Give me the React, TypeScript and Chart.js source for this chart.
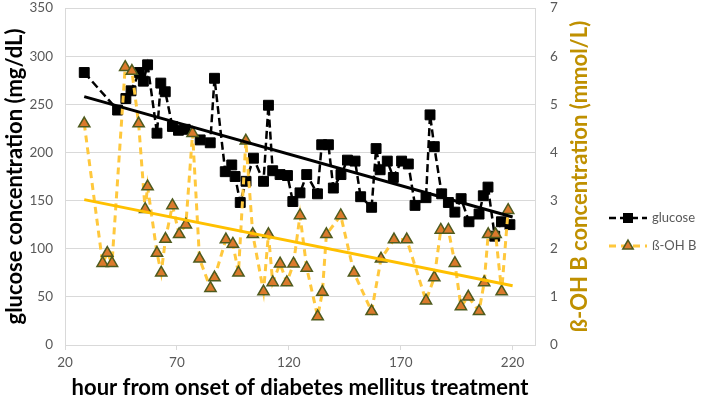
import { useEffect, useRef } from "react";
import { Chart, registerables } from "chart.js";

Chart.register(...registerables);

// Hours since treatment onset for each glucose sample, with its value (mg/dL)
const glucoseHours = [
  28.6, 43.5, 47.2, 49.5, 53.2, 55, 56.9, 61.1, 62.8, 64.8, 68, 70.7, 73.7, 80.4, 84.9, 86.8,
  91.6, 94.5, 96, 98.3, 100.9, 104.2, 108.7, 110.9, 112.8, 116.1, 119.4, 121.8, 125, 128,
  132.8, 134.7, 137.7, 139.9, 143.3, 146.2, 149.6, 152.1, 157, 159, 160.8, 164, 166.7, 170.4,
  173.4, 176.4, 181.3, 183.1, 185, 188.3, 191.3, 194.2, 197, 200.5, 205, 206.9, 209, 212, 215,
  218.8,
];
const glucoseValues = [
  283, 244, 256, 264, 283, 274, 291, 220, 272, 263, 227, 223, 224, 213, 210, 277,
  180, 187, 175, 148, 170, 194, 170, 249, 181, 177, 176, 149, 158, 177,
  157, 208, 208, 163, 177, 192, 191, 154, 143, 204, 182, 191, 174, 191,
  188, 145, 153, 239, 206, 157, 148, 138, 152, 128, 136, 155, 164, 113, 128,
  125,
];

// Hours and β-hydroxybutyrate values (mmol/L)
const bohbHours = [
  28.6, 36.8, 38.9, 41, 46.9, 49.9, 52.9, 55.8, 56.9, 61.1, 63, 64.9, 68, 71, 74, 77, 80.1,
  85, 86.8, 91.9, 95, 97.5, 100.8, 103.9, 108.7, 110.9, 112.8, 116.1, 119.1, 122.1, 125, 128,
  132.9, 135, 136.8, 143.2, 149.1, 157, 161.2, 167, 172.7, 181.3, 185, 187.9, 191.3, 194.2,
  196.9, 200.2, 205, 207.3, 209.1, 212.4, 215.1, 218,
];
const bohbValues = [
  4.6, 1.7, 1.91, 1.7, 5.77, 5.69, 4.6, 2.82, 3.29, 1.91, 1.5, 2.2, 2.9, 2.3, 2.5, 4.4, 1.79,
  1.18, 1.4, 2.19, 2.1, 1.5, 4.24, 2.3, 1.11, 2.3, 1.3, 1.69, 1.3, 1.69, 2.69, 1.6,
  0.59, 1.1, 2.3, 2.69, 1.5, 0.7, 1.79, 2.19, 2.19, 0.92, 1.4, 2.39, 2.39, 1.7,
  0.8, 1.0, 0.7, 1.3, 2.3, 2.3, 1.11, 2.8,
];

// Linear trend end points
const trendHours = [28.6, 220];
const glucoseTrend = [258, 133];
const bohbTrend = [3.02, 1.23];

const xTicks = [20, 70, 120, 170, 220];

const FONT = "Lato, 'Open Sans', sans-serif";
const TITLE_SIZE = 22;
const TICK_SIZE = 13.5;
const GRID = "#D9D9D9";
const TICK_COLOR = "#595959";
const BOHB_LINE = "#FFC83D";
const BOHB_FILL = "#DB7A2C";
const BOHB_EDGE = "#4E5B1E";
const RIGHT_TITLE = "ß-OH B concentration (mmol/L)";

const pts = (xs: number[], ys: number[]) => xs.map((x, i) => ({ x, y: ys[i] }));

function drawTriangle(ctx: CanvasRenderingContext2D, x: number, y: number, r: number) {
  ctx.beginPath();
  ctx.moveTo(x, y - r);
  ctx.lineTo(x + r * Math.sin(Math.PI / 3), y + r * 0.5);
  ctx.lineTo(x - r * Math.sin(Math.PI / 3), y + r * 0.5);
  ctx.closePath();
}

// Right-hand axis title (read bottom-to-top) and the legend beside it
const sidePlugin = {
  id: "sideTitleLegend",
  afterDraw(chart: Chart) {
    const { ctx, chartArea } = chart;
    ctx.save();
    ctx.translate(580, (chartArea.top + chartArea.bottom) / 2);
    ctx.rotate(-Math.PI / 2);
    ctx.font = `bold ${TITLE_SIZE}px ${FONT}`;
    ctx.fillStyle = "#BF9000";
    ctx.textAlign = "center";
    ctx.textBaseline = "middle";
    ctx.fillText(RIGHT_TITLE, 0, 0);
    ctx.restore();

    const rows = [
      { y: 218, label: "glucose", color: "#000000", width: 2.5, dash: [7, 4], marker: "rect" },
      { y: 246, label: "ß-OH B", color: BOHB_LINE, width: 3, dash: [7, 5], marker: "triangle" },
    ];
    const x0 = 609;
    const x1 = 647;
    rows.forEach((r) => {
      ctx.save();
      ctx.strokeStyle = r.color;
      ctx.lineWidth = r.width;
      ctx.setLineDash(r.dash);
      ctx.beginPath();
      ctx.moveTo(x0, r.y);
      ctx.lineTo(x1, r.y);
      ctx.stroke();
      ctx.setLineDash([]);
      const cx = (x0 + x1) / 2;
      if (r.marker === "rect") {
        ctx.fillStyle = "#000";
        ctx.fillRect(cx - 5, r.y - 5, 10, 10);
      } else {
        drawTriangle(ctx, cx, r.y, 6);
        ctx.fillStyle = BOHB_FILL;
        ctx.fill();
        ctx.lineWidth = 1.5;
        ctx.strokeStyle = BOHB_EDGE;
        ctx.stroke();
      }
      ctx.fillStyle = TICK_COLOR;
      ctx.font = `13px ${FONT}`;
      ctx.textAlign = "left";
      ctx.textBaseline = "middle";
      ctx.fillText(r.label, 652, r.y);
      ctx.restore();
    });
  },
};

export default function App() {
  const canvasRef = useRef<HTMLCanvasElement>(null);

  useEffect(() => {
    if (!canvasRef.current) return;
    const chart = new Chart(canvasRef.current, {
      type: "line",
      data: {
        datasets: [
          {
            label: "glucose trend",
            data: pts(trendHours, glucoseTrend),
            yAxisID: "y",
            borderColor: "#000000",
            borderWidth: 3,
            pointRadius: 0,
            order: 0,
          },
          {
            label: "ß-OH B trend",
            data: pts(trendHours, bohbTrend),
            yAxisID: "y1",
            borderColor: "#FFC000",
            borderWidth: 3,
            pointRadius: 0,
            order: 0,
          },
          {
            label: "ß-OH B",
            data: pts(bohbHours, bohbValues),
            yAxisID: "y1",
            borderColor: BOHB_LINE,
            borderWidth: 3,
            borderDash: [7, 5],
            pointStyle: "triangle",
            pointRadius: 6.5,
            pointBackgroundColor: BOHB_FILL,
            pointBorderColor: BOHB_EDGE,
            pointBorderWidth: 1.5,
            order: 1,
          },
          {
            label: "glucose",
            data: pts(glucoseHours, glucoseValues),
            yAxisID: "y",
            borderColor: "#000000",
            borderWidth: 2.5,
            borderDash: [8, 4],
            pointStyle: "rect",
            pointRadius: 7,
            pointBackgroundColor: "#000000",
            pointBorderColor: "#000000",
            pointBorderWidth: 1,
            order: 2,
          },
        ],
      },
      options: {
        animation: false,
        responsive: false,
        maintainAspectRatio: false,
        layout: { padding: { left: 2, right: 124, top: 3, bottom: 1 } },
        elements: { line: { tension: 0 } },
        plugins: {
          legend: { display: false },
          tooltip: { enabled: false },
        },
        scales: {
          x: {
            type: "linear",
            min: 20,
            max: 230,
            afterBuildTicks: (s: any) => {
              s.ticks = xTicks.map((v) => ({ value: v }));
            },
            afterFit: (s: any) => {
              s.height = 56;
              s.paddingLeft = 0;
              s.paddingRight = 0;
            },
            grid: { drawOnChartArea: false, color: GRID, tickLength: 5 },
            border: { color: GRID },
            ticks: { color: TICK_COLOR, font: { family: FONT, size: TICK_SIZE }, padding: 5, maxRotation: 0 },
            title: {
              display: true,
              text: "hour from onset of diabetes mellitus treatment",
              color: "#000000",
              font: { family: FONT, size: TITLE_SIZE, weight: "bold" },
              padding: { top: 0, bottom: 0 },
            },
          },
          y: {
            position: "left",
            min: 0,
            max: 350,
            afterFit: (s: any) => {
              s.width = 63;
              s.paddingTop = 0;
              s.paddingBottom = 0;
            },
            grid: { color: GRID, drawTicks: false },
            border: { color: GRID },
            ticks: { stepSize: 50, color: TICK_COLOR, font: { family: FONT, size: TICK_SIZE }, padding: 12 },
            title: {
              display: true,
              text: "glucose concentration (mg/dL)",
              color: "#000000",
              font: { family: FONT, size: TITLE_SIZE, weight: "bold" },
              padding: { top: 0, bottom: 0 },
            },
          },
          y1: {
            position: "right",
            min: 0,
            max: 7,
            afterFit: (s: any) => {
              s.width = 50;
              s.paddingTop = 0;
              s.paddingBottom = 0;
            },
            grid: { drawOnChartArea: false, drawTicks: false },
            border: { color: GRID },
            ticks: { stepSize: 1, color: TICK_COLOR, font: { family: FONT, size: TICK_SIZE }, padding: 15 },
          },
        },
      },
      plugins: [sidePlugin],
    });
    return () => chart.destroy();
  }, []);

  return (
    <div style={{ position: "fixed", left: 0, top: 0, width: 709, height: 402, background: "#ffffff" }}>
      <canvas ref={canvasRef} width={709} height={402} />
    </div>
  );
}
